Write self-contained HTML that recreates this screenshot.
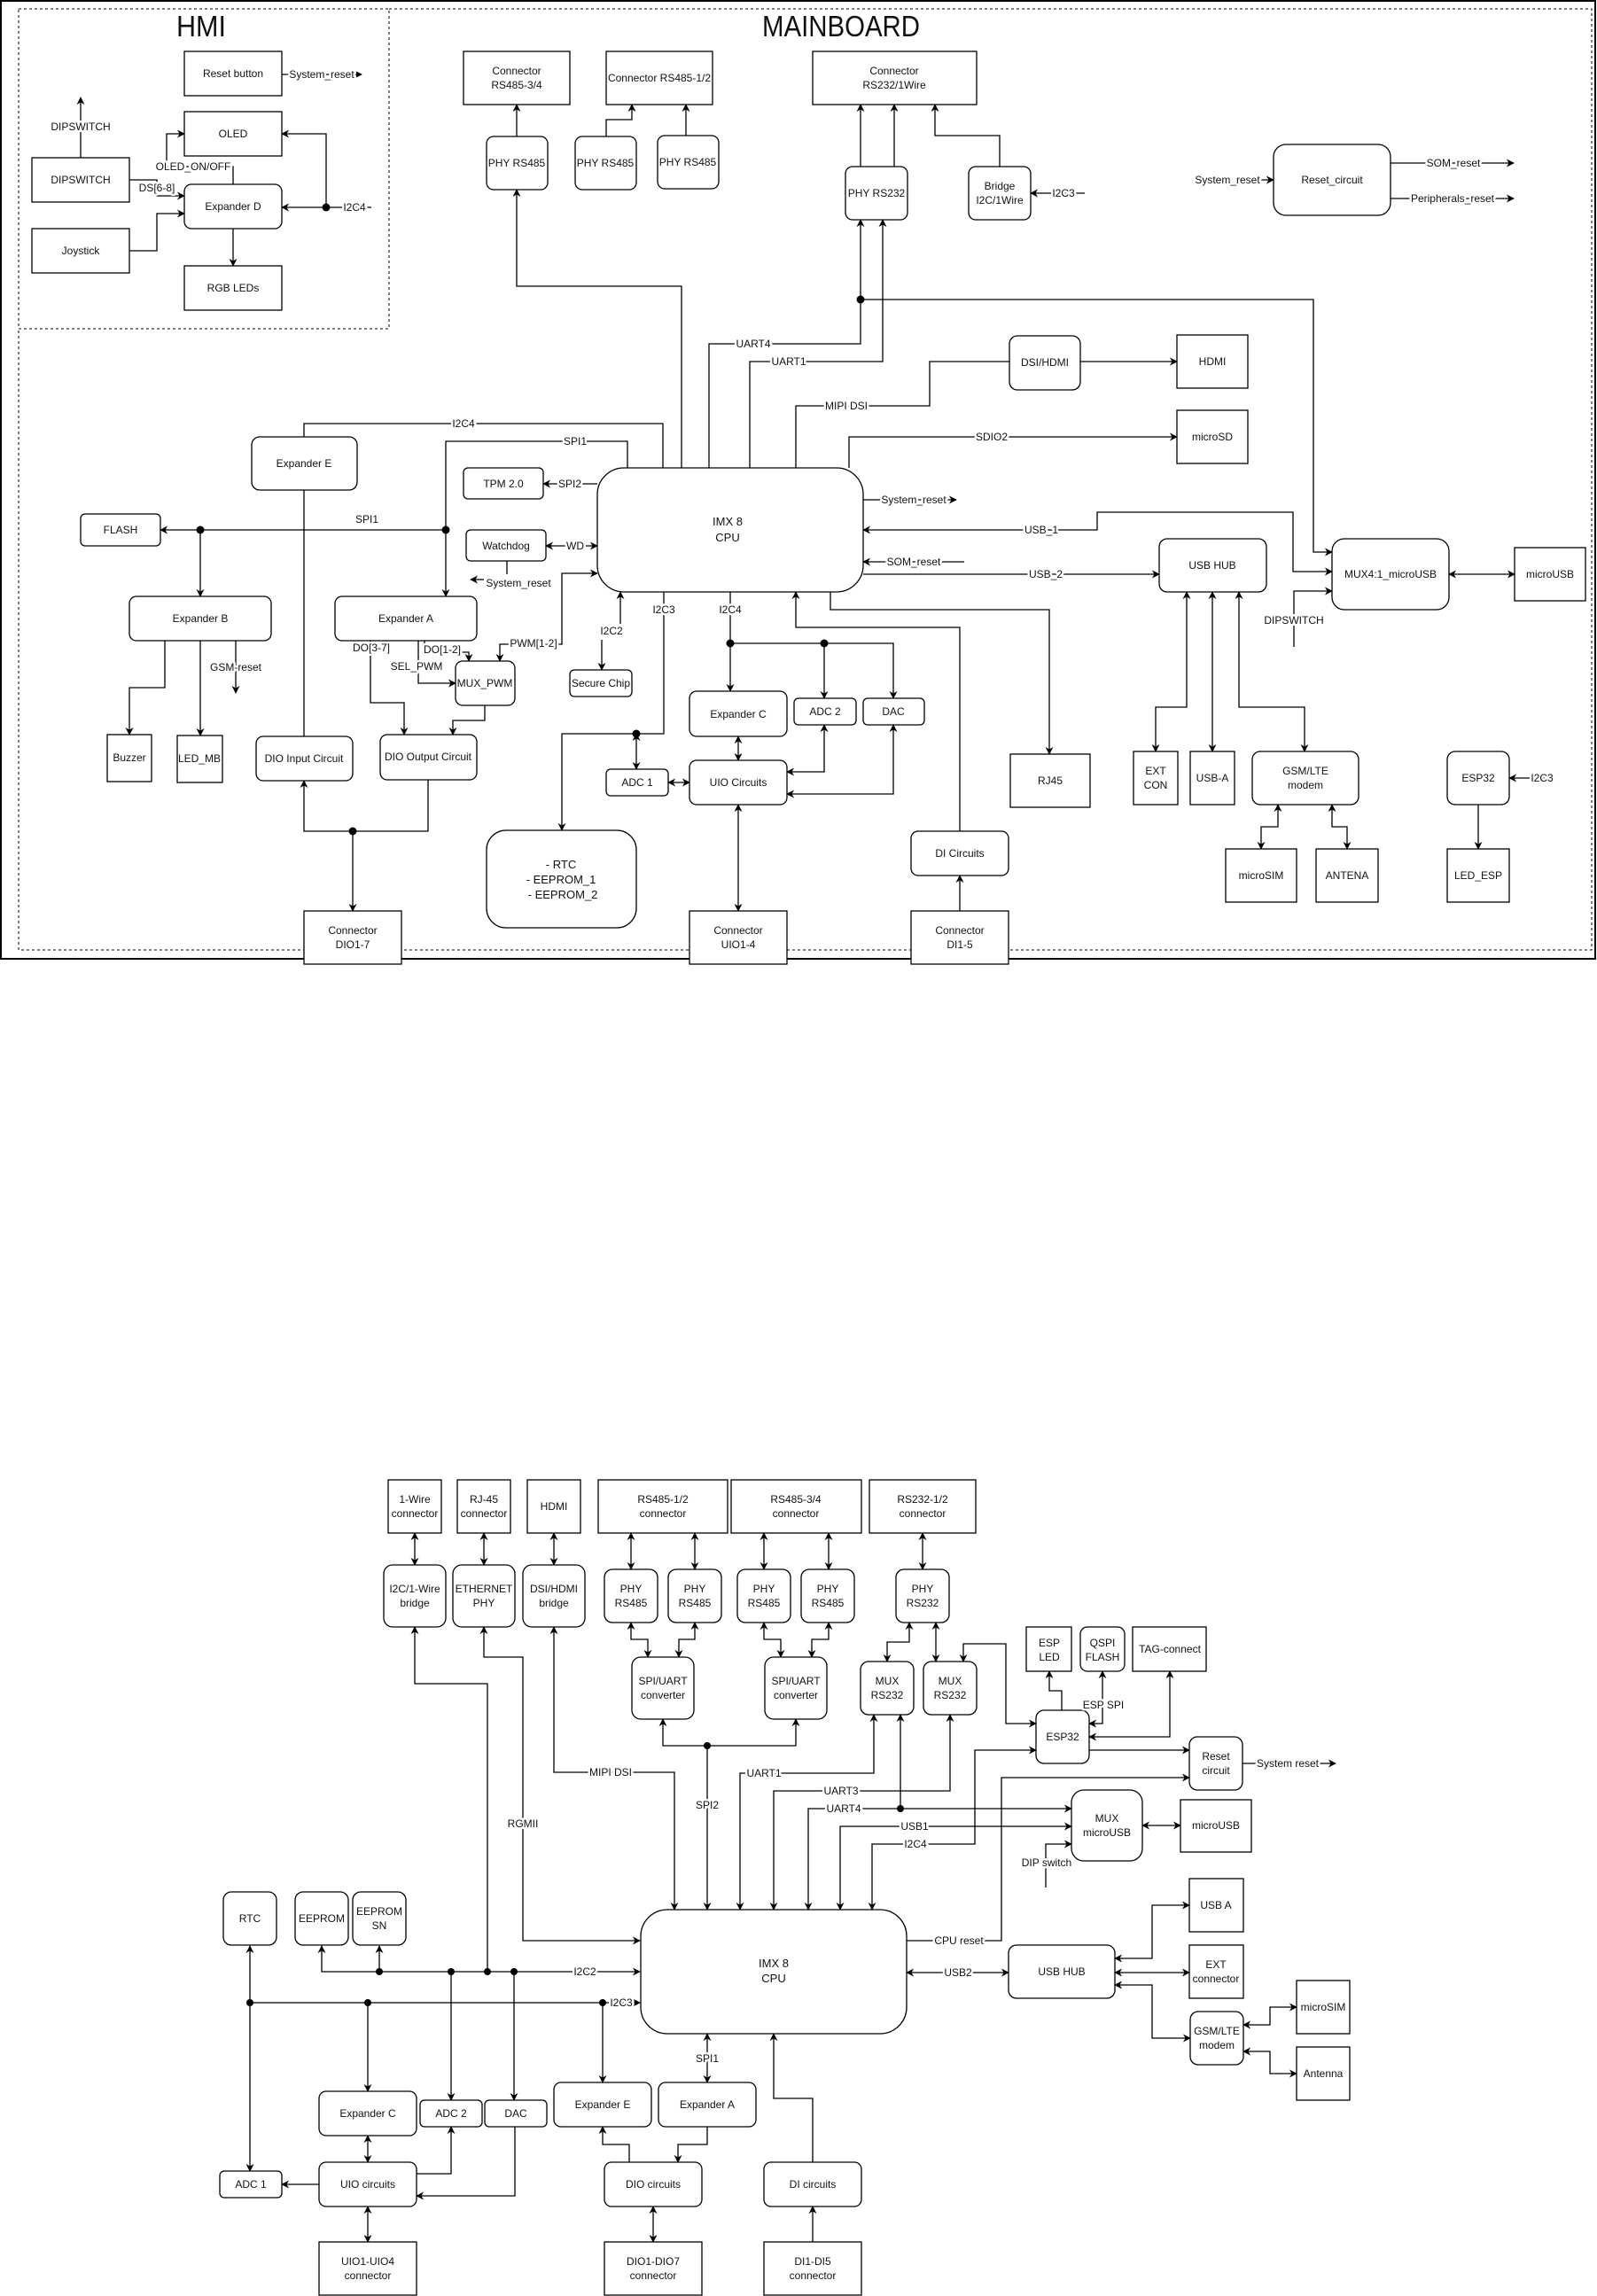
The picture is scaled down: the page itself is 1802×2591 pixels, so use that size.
<!DOCTYPE html>
<html><head><meta charset="utf-8"><style>
body{margin:0;background:#fff}
svg{display:block}
text{font-family:"Liberation Sans",sans-serif;font-size:12px;fill:#111;text-anchor:middle}
.l{paint-order:stroke;stroke:#fff;stroke-width:5px;stroke-linejoin:round}
.b{fill:#fff;stroke:#000;stroke-width:1.3}
.w{fill:none;stroke:#000;stroke-width:1.3}
.d{fill:#000}
</style></head><body>
<svg width="1802" height="2591" viewBox="0 0 1802 2591" xmlns="http://www.w3.org/2000/svg">
<defs><marker id="a" viewBox="0 0 10 10" refX="9" refY="5" markerWidth="9" markerHeight="9" markerUnits="userSpaceOnUse" orient="auto-start-reverse"><path d="M0,0 L10,5 L0,10 L3,5 z"/></marker></defs>
<rect width="1802" height="2591" fill="#fff"/>
<!-- frames -->
<rect x="1" y="1" width="1799" height="1081" fill="none" stroke="#000" stroke-width="2"/>
<rect x="21" y="10" width="418" height="361" fill="none" stroke="#000" stroke-dasharray="3,3"/>
<polyline points="439,10 1796,10 1796,1072 21,1072 21,371" fill="none" stroke="#000" stroke-dasharray="3,3"/>
<text x="227" y="41" style="font-size:33px" textLength="56" lengthAdjust="spacingAndGlyphs">HMI</text>
<text x="949" y="41" style="font-size:33px" textLength="178" lengthAdjust="spacingAndGlyphs">MAINBOARD</text>

<g class="w">
<!-- HMI connectors -->
<line x1="318" y1="84" x2="408" y2="84" marker-end="url(#a)"/>
<line x1="91" y1="178" x2="91" y2="110" marker-end="url(#a)"/>
<polyline points="263,208 263,188 188,188 188,151 208,151" marker-end="url(#a)"/>
<polyline points="146,203 177,203 177,221 208,221" marker-end="url(#a)"/>
<polyline points="146,283 177,283 177,241 208,241" marker-end="url(#a)"/>
<line x1="419" y1="234" x2="318" y2="234" marker-end="url(#a)"/>
<polyline points="368,234 368,151 318,151" marker-end="url(#a)"/>
<line x1="263" y1="258" x2="263" y2="300" marker-end="url(#a)"/>
<!-- mainboard -->
<line x1="583" y1="154" x2="583" y2="118" marker-end="url(#a)"/>
<polyline points="684,154 684,135 713,135 713,118" marker-end="url(#a)"/>
<line x1="774" y1="153" x2="774" y2="118" marker-end="url(#a)"/>
<polyline points="769,528 769,323 583,323 583,214" marker-end="url(#a)"/>
<line x1="971" y1="188" x2="971" y2="118" marker-end="url(#a)"/>
<line x1="1009" y1="188" x2="1009" y2="118" marker-end="url(#a)"/>
<polyline points="1128,188 1128,153 1055,153 1055,118" marker-end="url(#a)"/>
<line x1="1224" y1="218" x2="1163" y2="218" marker-end="url(#a)"/>
<polyline points="800,528 800,388 971,388 971,248" marker-end="url(#a)"/>
<polyline points="971,338 1482,338 1482,623 1503,623" marker-end="url(#a)"/>
<polyline points="846,528 846,408 996,408 996,248" marker-end="url(#a)"/>
<polyline points="898,528 898,458 1049,458 1049,408 1139,408"/>
<line x1="1219" y1="408" x2="1328" y2="408" marker-end="url(#a)"/>
<polyline points="958,528 958,493 1328,493" marker-end="url(#a)"/>
<polyline points="748,528 748,478 343,478 343,493"/>
<line x1="343" y1="553" x2="343" y2="831"/>
<polyline points="708,528 708,498 503,498 503,673" marker-end="url(#a)"/>
<line x1="503" y1="598" x2="181" y2="598" marker-end="url(#a)"/>
<line x1="226" y1="598" x2="226" y2="673" marker-end="url(#a)"/>
<line x1="674" y1="546" x2="613" y2="546" marker-end="url(#a)"/>
<line x1="616" y1="616" x2="674" y2="616" marker-start="url(#a)" marker-end="url(#a)"/>
<line x1="572" y1="633" x2="572" y2="648"/>
<line x1="546" y1="654" x2="531" y2="654" marker-end="url(#a)"/>
<polyline points="674,647 634,647 634,727 564,727 564,746" marker-start="url(#a)" marker-end="url(#a)"/>
<line x1="700" y1="704" x2="700" y2="668" marker-end="url(#a)"/>
<line x1="679" y1="722" x2="679" y2="756" marker-end="url(#a)"/>
<polyline points="749,668 749,828 634,828 634,937" marker-end="url(#a)"/>
<line x1="718" y1="828" x2="718" y2="868" marker-start="url(#a)" marker-end="url(#a)"/>
<line x1="754" y1="883" x2="778" y2="883" marker-start="url(#a)" marker-end="url(#a)"/>
<line x1="824" y1="668" x2="824" y2="780" marker-end="url(#a)"/>
<polyline points="824,726 1008,726 1008,788" marker-end="url(#a)"/>
<line x1="930" y1="726" x2="930" y2="788" marker-end="url(#a)"/>
<line x1="833" y1="831" x2="833" y2="858" marker-start="url(#a)" marker-end="url(#a)"/>
<polyline points="888,871 930,871 930,818" marker-start="url(#a)" marker-end="url(#a)"/>
<polyline points="888,896 1008,896 1008,818" marker-start="url(#a)" marker-end="url(#a)"/>
<line x1="833" y1="908" x2="833" y2="1028" marker-start="url(#a)" marker-end="url(#a)"/>
<polyline points="1083,938 1083,708 898,708 898,668" marker-end="url(#a)"/>
<line x1="1083" y1="1028" x2="1083" y2="988" marker-end="url(#a)"/>
<polyline points="937,668 937,688 1184,688 1184,851" marker-end="url(#a)"/>
<line x1="974" y1="564" x2="1079" y2="564" marker-end="url(#a)"/>
<polyline points="1503,645 1459,645 1459,578 1238,578 1238,598 974,598" marker-start="url(#a)" marker-end="url(#a)"/>
<line x1="1088" y1="634" x2="974" y2="634" marker-end="url(#a)"/>
<line x1="974" y1="648" x2="1308" y2="648" marker-end="url(#a)"/>
<line x1="1635" y1="648" x2="1709" y2="648" marker-start="url(#a)" marker-end="url(#a)"/>
<polyline points="1460,730 1460,667 1503,667" marker-end="url(#a)"/>
<polyline points="1339,668 1339,798 1304,798 1304,848" marker-start="url(#a)" marker-end="url(#a)"/>
<line x1="1368" y1="668" x2="1368" y2="848" marker-start="url(#a)" marker-end="url(#a)"/>
<polyline points="1398,668 1398,798 1472,798 1472,848" marker-start="url(#a)" marker-end="url(#a)"/>
<polyline points="1442,908 1442,933 1423,933 1423,958" marker-start="url(#a)" marker-end="url(#a)"/>
<polyline points="1503,908 1503,933 1520,933 1520,958" marker-start="url(#a)" marker-end="url(#a)"/>
<line x1="1751" y1="878" x2="1703" y2="878" marker-end="url(#a)"/>
<line x1="1668" y1="908" x2="1668" y2="958" marker-end="url(#a)"/>
<line x1="1420" y1="203" x2="1437" y2="203" marker-end="url(#a)"/>
<line x1="1569" y1="184" x2="1708" y2="184" marker-end="url(#a)"/>
<line x1="1569" y1="224" x2="1708" y2="224" marker-end="url(#a)"/>
<polyline points="483,880 483,938 343,938 343,881" marker-end="url(#a)"/>
<line x1="398" y1="938" x2="398" y2="1028" marker-end="url(#a)"/>
<polyline points="418,723 418,793 456,793 456,829" marker-end="url(#a)"/>
<polyline points="479,723 479,736 529,736 529,746" marker-end="url(#a)"/>
<polyline points="472,723 472,771 514,771" marker-end="url(#a)"/>
<polyline points="547,796 547,813 511,813 511,829" marker-end="url(#a)"/>
<polyline points="186,723 186,776 146,776 146,829" marker-end="url(#a)"/>
<line x1="226" y1="723" x2="226" y2="830" marker-end="url(#a)"/>
<line x1="266" y1="723" x2="266" y2="782" marker-end="url(#a)"/>
</g>
<g class="d">
<circle cx="368" cy="234" r="4.5"/><circle cx="971" cy="338" r="4.5"/><circle cx="226" cy="598" r="4.5"/><circle cx="503" cy="598" r="4.5"/><circle cx="718" cy="828" r="4.5"/><circle cx="824" cy="726" r="4.5"/><circle cx="930" cy="726" r="4.5"/><circle cx="398" cy="938" r="4.5"/>
</g>

<!-- top boxes -->
<g class="b">
<rect x="208" y="58" width="110" height="50"/><rect x="208" y="126" width="110" height="50"/>
<rect x="36" y="178" width="110" height="50"/><rect x="36" y="258" width="110" height="50"/>
<rect x="208" y="300" width="110" height="50"/>
<rect x="523" y="58" width="120" height="60"/><rect x="684" y="58" width="120" height="60"/>
<rect x="917" y="58" width="185" height="60"/>
<rect x="1328" y="378" width="80" height="60"/><rect x="1328" y="463" width="80" height="60"/>
<rect x="1709" y="618" width="80" height="60"/><rect x="1140" y="851" width="90" height="60"/>
<rect x="121" y="829" width="50" height="53"/><rect x="200" y="830" width="51" height="53"/>
<rect x="343" y="1028" width="110" height="60"/><rect x="778" y="1028" width="110" height="60"/>
<rect x="1028" y="1028" width="110" height="60"/>
<rect x="1279" y="848" width="50" height="60"/><rect x="1343" y="848" width="50" height="60"/>
<rect x="1383" y="958" width="80" height="60"/><rect x="1485" y="958" width="70" height="60"/>
<rect x="1633" y="958" width="70" height="60"/>
<rect x="208" y="208" width="110" height="50" rx="8"/>
<rect x="549" y="154" width="69" height="60" rx="8"/><rect x="649" y="154" width="69" height="60" rx="8"/><rect x="742" y="153" width="69" height="60" rx="8"/>
<rect x="954" y="188" width="70" height="60" rx="8"/><rect x="1093" y="188" width="70" height="60" rx="8"/>
<rect x="1437" y="163" width="132" height="80" rx="14"/>
<rect x="1139" y="379" width="80" height="61" rx="9"/>
<rect x="284" y="493" width="119" height="60" rx="9"/>
<rect x="523" y="528" width="90" height="35" rx="5"/>
<rect x="674" y="528" width="300" height="140" rx="30"/>
<rect x="91" y="580" width="90" height="36" rx="5"/><rect x="526" y="598" width="90" height="35" rx="5"/>
<rect x="146" y="673" width="160" height="50" rx="8"/><rect x="378" y="673" width="160" height="50" rx="8"/>
<rect x="514" y="746" width="67" height="50" rx="8"/><rect x="643" y="756" width="70" height="30" rx="5"/>
<rect x="778" y="780" width="110" height="51" rx="8"/>
<rect x="896" y="788" width="70" height="30" rx="5"/><rect x="974" y="788" width="69" height="30" rx="5"/>
<rect x="684" y="868" width="70" height="30" rx="5"/><rect x="778" y="858" width="110" height="50" rx="8"/>
<rect x="289" y="831" width="109" height="50" rx="8"/><rect x="429" y="829" width="109" height="51" rx="8"/>
<rect x="549" y="937" width="169" height="110" rx="22"/>
<rect x="1028" y="938" width="110" height="50" rx="8"/>
<rect x="1308" y="608" width="121" height="60" rx="9"/><rect x="1503" y="608" width="132" height="80" rx="14"/>
<rect x="1413" y="848" width="120" height="60" rx="9"/><rect x="1633" y="848" width="70" height="60" rx="9"/>
</g>
<g>
<text x="263" y="87">Reset button</text><text x="263" y="155">OLED</text><text x="91" y="207">DIPSWITCH</text>
<text x="91" y="287">Joystick</text><text x="263" y="329">RGB LEDs</text><text x="263" y="237">Expander D</text>
<text x="583" y="84">Connector</text><text x="583" y="100">RS485-3/4</text>
<text x="744" y="92">Connector RS485-1/2</text>
<text x="1009" y="84">Connector</text><text x="1009" y="100">RS232/1Wire</text>
<text x="583" y="188">PHY RS485</text><text x="683" y="188">PHY RS485</text><text x="776" y="187">PHY RS485</text>
<text x="989" y="222">PHY RS232</text><text x="1128" y="214">Bridge</text><text x="1128" y="230">I2C/1Wire</text>
<text x="1503" y="207">Reset_circuit</text>
<text x="1179" y="413">DSI/HDMI</text><text x="1368" y="412">HDMI</text><text x="1368" y="497">microSD</text>
<text x="343" y="527">Expander E</text><text x="568" y="550">TPM 2.0</text>
<text x="821" y="593" style="font-size:13px">IMX 8</text><text x="821" y="611" style="font-size:13px">CPU</text>
<text x="136" y="602">FLASH</text><text x="571" y="620">Watchdog</text>
<text x="226" y="702">Expander B</text><text x="458" y="702">Expander A</text>
<text x="547" y="775">MUX_PWM</text><text x="678" y="775">Secure Chip</text>
<text x="833" y="810">Expander C</text><text x="931" y="807">ADC 2</text><text x="1008" y="807">DAC</text>
<text x="719" y="887">ADC 1</text><text x="833" y="887">UIO Circuits</text>
<text x="343" y="860">DIO Input Circuit</text><text x="483" y="858">DIO Output Circuit</text>
<text x="146" y="859">Buzzer</text><text x="225" y="860">LED_MB</text>
<text x="633" y="980" style="font-size:13px">- RTC</text><text x="633" y="997" style="font-size:13px">- EEPROM_1</text><text x="635" y="1014" style="font-size:13px">- EEPROM_2</text>
<text x="398" y="1054">Connector</text><text x="398" y="1070">DIO1-7</text>
<text x="833" y="1054">Connector</text><text x="833" y="1070">UIO1-4</text>
<text x="1083" y="1054">Connector</text><text x="1083" y="1070">DI1-5</text>
<text x="1083" y="967">DI Circuits</text><text x="1185" y="885">RJ45</text>
<text x="1368" y="642">USB HUB</text><text x="1569" y="652">MUX4:1_microUSB</text><text x="1749" y="652">microUSB</text>
<text x="1304" y="874">EXT</text><text x="1304" y="890">CON</text><text x="1368" y="882">USB-A</text>
<text x="1473" y="874">GSM/LTE</text><text x="1473" y="890">modem</text>
<text x="1668" y="882">ESP32</text><text x="1423" y="992">microSIM</text><text x="1520" y="992">ANTENA</text><text x="1668" y="992">LED_ESP</text>
</g>
<g class="l" style="font-size:11px">
<text x="363" y="88" class="l">System_reset</text>
<text x="91" y="147" class="l">DIPSWITCH</text>
<text x="218" y="192" class="l">OLED_ON/OFF</text>
<text x="177" y="216" class="l">DS[6-8]</text>
<text x="400" y="238" class="l">I2C4</text>
<text x="1200" y="222" class="l">I2C3</text>
<text x="850" y="392" class="l">UART4</text><text x="890" y="412" class="l">UART1</text>
<text x="955" y="462" class="l">MIPI DSI</text><text x="1119" y="497" class="l">SDIO2</text>
<text x="523" y="482" class="l">I2C4</text><text x="649" y="502" class="l">SPI1</text>
<text x="414" y="590" class="l">SPI1</text><text x="643" y="550" class="l">SPI2</text><text x="649" y="620" class="l">WD</text>
<text x="585" y="662" class="l">System_reset</text>
<text x="602" y="730" class="l">PWM[1-2]</text>
<text x="690" y="716" class="l">I2C2</text>
<text x="749" y="692" class="l">I2C3</text><text x="824" y="692" class="l">I2C4</text>
<text x="419" y="735" class="l">DO[3-7]</text><text x="499" y="737" class="l">DO[1-2]</text>
<text x="470" y="756" class="l">SEL_PWM</text><text x="266" y="757" class="l">GSM-reset</text>
<text x="1031" y="568" class="l">System_reset</text><text x="1175" y="602" class="l">USB_1</text>
<text x="1031" y="638" class="l">SOM_reset</text><text x="1180" y="652" class="l">USB_2</text>
<text x="1460" y="704" class="l">DIPSWITCH</text><text x="1740" y="882" class="l">I2C3</text>
<text x="1385" y="207" class="l">System_reset</text>
<text x="1640" y="188" class="l">SOM_reset</text><text x="1639" y="228" class="l">Peripherals_reset</text>
</g>

<!-- ============ BOTTOM DIAGRAM ============ -->
<g class="w">
<line x1="468" y1="1730" x2="468" y2="1766" marker-start="url(#a)" marker-end="url(#a)"/>
<line x1="546" y1="1730" x2="546" y2="1766" marker-start="url(#a)" marker-end="url(#a)"/>
<line x1="625" y1="1730" x2="625" y2="1766" marker-start="url(#a)" marker-end="url(#a)"/>
<line x1="712" y1="1730" x2="712" y2="1771" marker-start="url(#a)" marker-end="url(#a)"/>
<line x1="784" y1="1730" x2="784" y2="1771" marker-start="url(#a)" marker-end="url(#a)"/>
<line x1="862" y1="1730" x2="862" y2="1771" marker-start="url(#a)" marker-end="url(#a)"/>
<line x1="935" y1="1730" x2="935" y2="1771" marker-start="url(#a)" marker-end="url(#a)"/>
<line x1="1041" y1="1730" x2="1041" y2="1771" marker-start="url(#a)" marker-end="url(#a)"/>
<polyline points="712,1831 712,1850 731,1850 731,1870" marker-start="url(#a)" marker-end="url(#a)"/>
<polyline points="784,1831 784,1850 766,1850 766,1870" marker-start="url(#a)" marker-end="url(#a)"/>
<polyline points="862,1831 862,1850 881,1850 881,1870" marker-start="url(#a)" marker-end="url(#a)"/>
<polyline points="935,1831 935,1850 916,1850 916,1870" marker-start="url(#a)" marker-end="url(#a)"/>
<polyline points="748,1940 748,1970 898,1970 898,1940" marker-start="url(#a)" marker-end="url(#a)"/>
<line x1="798" y1="1970" x2="798" y2="2155" marker-end="url(#a)"/>
<polyline points="550,2225 550,1900 468,1900 468,1836" marker-end="url(#a)"/>
<polyline points="722,2190 590,2190 590,1870 546,1870 546,1836" marker-start="url(#a)" marker-end="url(#a)"/>
<polyline points="761,2155 761,2000 625,2000 625,1836" marker-start="url(#a)" marker-end="url(#a)"/>
<polyline points="835,2155 835,2001 986,2001 986,1935" marker-start="url(#a)" marker-end="url(#a)"/>
<polyline points="873,2155 873,2021 1072,2021 1072,1935" marker-start="url(#a)" marker-end="url(#a)"/>
<polyline points="912,2155 912,2041 1209,2041" marker-start="url(#a)" marker-end="url(#a)"/>
<line x1="1016" y1="2041" x2="1016" y2="1935" marker-end="url(#a)"/>
<polyline points="948,2155 948,2061 1209,2061" marker-start="url(#a)" marker-end="url(#a)"/>
<polyline points="984,2155 984,2081 1100,2081 1100,1975 1169,1975" marker-start="url(#a)" marker-end="url(#a)"/>
<polyline points="1180,2130 1180,2081 1209,2081" marker-end="url(#a)"/>
<line x1="1289" y1="2060" x2="1332" y2="2060" marker-start="url(#a)" marker-end="url(#a)"/>
<polyline points="1026,1831 1026,1853 1001,1853 1001,1875" marker-start="url(#a)" marker-end="url(#a)"/>
<line x1="1056" y1="1831" x2="1056" y2="1875" marker-start="url(#a)" marker-end="url(#a)"/>
<polyline points="1087,1875 1087,1855 1135,1855 1135,1945 1169,1945" marker-start="url(#a)" marker-end="url(#a)"/>
<polyline points="1198,1930 1198,1908 1184,1908 1184,1886" marker-end="url(#a)"/>
<polyline points="1244,1886 1244,1945 1229,1945" marker-start="url(#a)" marker-end="url(#a)"/>
<polyline points="1320,1886 1320,1960 1229,1960" marker-start="url(#a)" marker-end="url(#a)"/>
<line x1="1229" y1="1975" x2="1342" y2="1975" marker-end="url(#a)"/>
<polyline points="1023,2190 1130,2190 1130,2006 1342,2006" marker-end="url(#a)"/>
<line x1="1402" y1="1990" x2="1507" y2="1990" marker-end="url(#a)"/>
<line x1="1023" y1="2226" x2="1138" y2="2226" marker-start="url(#a)" marker-end="url(#a)"/>
<polyline points="1258,2210 1300,2210 1300,2150 1342,2150" marker-start="url(#a)" marker-end="url(#a)"/>
<line x1="1258" y1="2226" x2="1342" y2="2226" marker-start="url(#a)" marker-end="url(#a)"/>
<polyline points="1258,2240 1300,2240 1300,2300 1343,2300" marker-start="url(#a)" marker-end="url(#a)"/>
<polyline points="1403,2285 1433,2285 1433,2265 1463,2265" marker-start="url(#a)" marker-end="url(#a)"/>
<polyline points="1403,2315 1433,2315 1433,2340 1463,2340" marker-start="url(#a)" marker-end="url(#a)"/>
<polyline points="363,2196 363,2225 722,2225" marker-start="url(#a)" marker-end="url(#a)"/>
<line x1="428" y1="2225" x2="428" y2="2196" marker-end="url(#a)"/>
<line x1="509" y1="2225" x2="509" y2="2370" marker-end="url(#a)"/>
<line x1="580" y1="2225" x2="580" y2="2370" marker-end="url(#a)"/>
<line x1="282" y1="2260" x2="722" y2="2260" marker-end="url(#a)"/>
<line x1="282" y1="2196" x2="282" y2="2450" marker-start="url(#a)" marker-end="url(#a)"/>
<line x1="415" y1="2260" x2="415" y2="2360" marker-end="url(#a)"/>
<line x1="680" y1="2260" x2="680" y2="2350" marker-end="url(#a)"/>
<line x1="798" y1="2295" x2="798" y2="2350" marker-start="url(#a)" marker-end="url(#a)"/>
<line x1="415" y1="2410" x2="415" y2="2440" marker-start="url(#a)" marker-end="url(#a)"/>
<line x1="360" y1="2465" x2="318" y2="2465" marker-end="url(#a)"/>
<polyline points="470,2453 509,2453 509,2400" marker-end="url(#a)"/>
<polyline points="581,2400 581,2478 470,2478" marker-end="url(#a)"/>
<line x1="415" y1="2490" x2="415" y2="2530" marker-start="url(#a)" marker-end="url(#a)"/>
<polyline points="710,2440 710,2420 680,2420 680,2400" marker-end="url(#a)"/>
<polyline points="798,2400 798,2420 765,2420 765,2440" marker-end="url(#a)"/>
<line x1="737" y1="2490" x2="737" y2="2530" marker-start="url(#a)" marker-end="url(#a)"/>
<line x1="917" y1="2530" x2="917" y2="2490" marker-end="url(#a)"/>
<polyline points="917,2440 917,2368 873,2368 873,2295" marker-end="url(#a)"/>
</g>
<g class="d">
<circle cx="798" cy="1970" r="4"/><circle cx="1016" cy="2041" r="4"/>
<circle cx="428" cy="2225" r="4"/><circle cx="509" cy="2225" r="4"/><circle cx="550" cy="2225" r="4"/><circle cx="580" cy="2225" r="4"/>
<circle cx="282" cy="2260" r="4"/><circle cx="415" cy="2260" r="4"/><circle cx="680" cy="2260" r="4"/>
</g>
<g class="b">
<rect x="438" y="1670" width="60" height="60"/><rect x="516" y="1670" width="60" height="60"/><rect x="595" y="1670" width="60" height="60"/>
<rect x="675" y="1670" width="146" height="60"/><rect x="825" y="1670" width="147" height="60"/><rect x="981" y="1670" width="120" height="60"/>
<rect x="1158" y="1836" width="51" height="50"/><rect x="1278" y="1836" width="83" height="50"/>
<rect x="1332" y="2031" width="80" height="59"/>
<rect x="1342" y="2120" width="61" height="60"/><rect x="1342" y="2195" width="61" height="60"/>
<rect x="1463" y="2235" width="60" height="60"/><rect x="1463" y="2310" width="60" height="60"/>
<rect x="360" y="2530" width="110" height="60"/><rect x="682" y="2530" width="110" height="60"/><rect x="862" y="2530" width="110" height="60"/>
<rect x="433" y="1766" width="70" height="70" rx="10"/><rect x="511" y="1766" width="70" height="70" rx="10"/><rect x="590" y="1766" width="70" height="70" rx="10"/>
<rect x="682" y="1771" width="60" height="60" rx="9"/><rect x="754" y="1771" width="60" height="60" rx="9"/>
<rect x="832" y="1771" width="60" height="60" rx="9"/><rect x="904" y="1771" width="60" height="60" rx="9"/>
<rect x="1011" y="1771" width="60" height="60" rx="9"/>
<rect x="713" y="1870" width="70" height="70" rx="10"/><rect x="863" y="1870" width="70" height="70" rx="10"/>
<rect x="971" y="1875" width="60" height="60" rx="9"/><rect x="1042" y="1875" width="60" height="60" rx="9"/>
<rect x="1219" y="1836" width="50" height="50" rx="8"/>
<rect x="1169" y="1930" width="60" height="60" rx="9"/><rect x="1342" y="1960" width="60" height="60" rx="9"/>
<rect x="1209" y="2020" width="80" height="80" rx="14"/>
<rect x="252" y="2135" width="60" height="60" rx="9"/><rect x="333" y="2135" width="60" height="60" rx="9"/><rect x="398" y="2135" width="60" height="60" rx="9"/>
<rect x="723" y="2155" width="300" height="140" rx="30"/>
<rect x="1138" y="2195" width="120" height="60" rx="9"/><rect x="1343" y="2270" width="60" height="60" rx="9"/>
<rect x="360" y="2360" width="110" height="50" rx="8"/><rect x="474" y="2370" width="70" height="30" rx="5"/><rect x="547" y="2370" width="70" height="30" rx="5"/>
<rect x="625" y="2350" width="110" height="50" rx="8"/><rect x="743" y="2350" width="110" height="50" rx="8"/>
<rect x="248" y="2450" width="70" height="30" rx="5"/><rect x="360" y="2440" width="110" height="50" rx="8"/>
<rect x="682" y="2440" width="110" height="50" rx="8"/><rect x="862" y="2440" width="110" height="50" rx="8"/>
</g>
<g>
<text x="468" y="1696">1-Wire</text><text x="468" y="1712">connector</text>
<text x="546" y="1696">RJ-45</text><text x="546" y="1712">connector</text>
<text x="625" y="1704">HDMI</text>
<text x="748" y="1696">RS485-1/2</text><text x="748" y="1712">connector</text>
<text x="898" y="1696">RS485-3/4</text><text x="898" y="1712">connector</text>
<text x="1041" y="1696">RS232-1/2</text><text x="1041" y="1712">connector</text>
<text x="468" y="1797">I2C/1-Wire</text><text x="468" y="1813">bridge</text>
<text x="546" y="1797">ETHERNET</text><text x="546" y="1813">PHY</text>
<text x="625" y="1797">DSI/HDMI</text><text x="625" y="1813">bridge</text>
<text x="712" y="1797">PHY</text><text x="712" y="1813">RS485</text>
<text x="784" y="1797">PHY</text><text x="784" y="1813">RS485</text>
<text x="862" y="1797">PHY</text><text x="862" y="1813">RS485</text>
<text x="934" y="1797">PHY</text><text x="934" y="1813">RS485</text>
<text x="1041" y="1797">PHY</text><text x="1041" y="1813">RS232</text>
<text x="748" y="1901">SPI/UART</text><text x="748" y="1917">converter</text>
<text x="898" y="1901">SPI/UART</text><text x="898" y="1917">converter</text>
<text x="1001" y="1901">MUX</text><text x="1001" y="1917">RS232</text>
<text x="1072" y="1901">MUX</text><text x="1072" y="1917">RS232</text>
<text x="1184" y="1858">ESP</text><text x="1184" y="1874">LED</text>
<text x="1244" y="1858">QSPI</text><text x="1244" y="1874">FLASH</text>
<text x="1320" y="1865">TAG-connect</text>
<text x="1199" y="1964">ESP32</text>
<text x="1372" y="1986">Reset</text><text x="1372" y="2002">circuit</text>
<text x="1249" y="2056">MUX</text><text x="1249" y="2072">microUSB</text>
<text x="1372" y="2064">microUSB</text>
<text x="282" y="2169">RTC</text><text x="363" y="2169">EEPROM</text>
<text x="428" y="2161">EEPROM</text><text x="428" y="2177">SN</text>
<text x="873" y="2220" style="font-size:13px">IMX 8</text><text x="873" y="2237" style="font-size:13px">CPU</text>
<text x="1198" y="2229">USB HUB</text>
<text x="1372" y="2154">USB A</text>
<text x="1372" y="2221">EXT</text><text x="1372" y="2237">connector</text>
<text x="1373" y="2296">GSM/LTE</text><text x="1373" y="2312">modem</text>
<text x="1493" y="2269">microSIM</text><text x="1493" y="2344">Antenna</text>
<text x="415" y="2389">Expander C</text><text x="509" y="2389">ADC 2</text><text x="582" y="2389">DAC</text>
<text x="680" y="2379">Expander E</text><text x="798" y="2379">Expander A</text>
<text x="283" y="2469">ADC 1</text><text x="415" y="2469">UIO circuits</text>
<text x="737" y="2469">DIO circuits</text><text x="917" y="2469">DI circuits</text>
<text x="415" y="2556">UIO1-UIO4</text><text x="415" y="2572">connector</text>
<text x="737" y="2556">DIO1-DIO7</text><text x="737" y="2572">connector</text>
<text x="917" y="2556">DI1-DI5</text><text x="917" y="2572">connector</text>
</g>
<g style="font-size:11px">
<text x="798" y="2041" class="l">SPI2</text><text x="590" y="2062" class="l">RGMII</text>
<text x="689" y="2004" class="l">MIPI DSI</text><text x="862" y="2005" class="l">UART1</text>
<text x="949" y="2025" class="l">UART3</text><text x="952" y="2045" class="l">UART4</text>
<text x="1032" y="2065" class="l">USB1</text><text x="1033" y="2085" class="l">I2C4</text>
<text x="1181" y="2106" class="l">DIP switch</text><text x="1245" y="1928" class="l">ESP SPI</text>
<text x="1082" y="2194" class="l">CPU reset</text><text x="1453" y="1994" class="l">System reset</text>
<text x="1081" y="2230" class="l">USB2</text>
<text x="660" y="2229" class="l">I2C2</text><text x="701" y="2264" class="l">I2C3</text>
<text x="798" y="2327" class="l">SPI1</text>
</g>
</svg>
</body></html>
